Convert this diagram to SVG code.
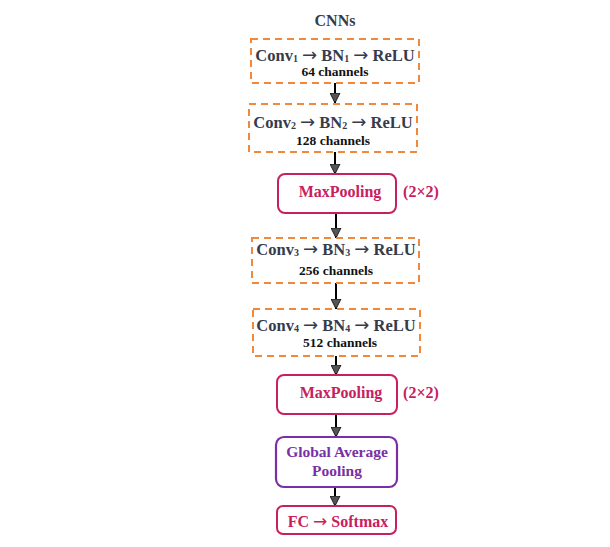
<svg xmlns="http://www.w3.org/2000/svg" width="610" height="547" viewBox="0 0 610 547">
<defs>
<style>
.t{font-family:"Liberation Serif","Times New Roman",serif;font-weight:bold;text-anchor:middle}
.conv{fill:#363b4b;font-size:16.5px}
.sub{font-size:10px}
.ar{font-family:"DejaVu Sans",sans-serif;font-weight:normal;font-size:18px}
.ch{fill:#111;font-size:13.5px}
.dash{fill:none;stroke:#F0893B;stroke-width:2;stroke-dasharray:7,5}
.mp{fill:#fff;stroke:#C8205F;stroke-width:2}
.mpt{fill:#C8205F;font-size:16px}
.gap{fill:#fff;stroke:#7A2FA6;stroke-width:2.2}
.gapt{fill:#7A2FA6;font-size:15.5px}
.ln{stroke:#000;stroke-width:2;fill:none}
</style>
<marker id="a2" markerWidth="12" markerHeight="12" refX="5.5" refY="10.5" orient="0" markerUnits="userSpaceOnUse" viewBox="0 0 12 12">
<path d="M0.5,0.5 L10.5,0.5 L5.5,10.5 Z" fill="#555" stroke="#000" stroke-width="0.8"/>
</marker>
</defs>
<rect width="610" height="547" fill="#fff"/>
<text class="t" x="335" y="26" font-size="16" fill="#363b4b">CNNs</text>
<g id="connectors">
<line class="ln" x1="335" y1="83" x2="335" y2="103" marker-end="url(#a2)"/>
<line class="ln" x1="335" y1="152" x2="335" y2="174" marker-end="url(#a2)"/>
<line class="ln" x1="336" y1="213" x2="336" y2="238" marker-end="url(#a2)"/>
<line class="ln" x1="336" y1="283" x2="336" y2="309" marker-end="url(#a2)"/>
<line class="ln" x1="336" y1="356" x2="336" y2="375" marker-end="url(#a2)"/>
<line class="ln" x1="336" y1="414" x2="336" y2="437" marker-end="url(#a2)"/>
<line class="ln" x1="335" y1="487" x2="335" y2="506" marker-end="url(#a2)"/>
</g>
<g id="conv1">
<rect class="dash" x="251" y="39" width="168" height="44"/>
<text class="t conv" x="335" y="61">Conv<tspan class="sub" dy="1">1</tspan><tspan dy="-1"> </tspan><tspan class="ar">→</tspan> BN<tspan class="sub" dy="1">1</tspan><tspan dy="-1"> </tspan><tspan class="ar">→</tspan> ReLU</text>
<text class="t ch" x="335" y="76">64 channels</text>
</g>
<g id="conv2">
<rect class="dash" x="249" y="104" width="168" height="48"/>
<text class="t conv" x="333" y="128">Conv<tspan class="sub" dy="1">2</tspan><tspan dy="-1"> </tspan><tspan class="ar">→</tspan> BN<tspan class="sub" dy="1">2</tspan><tspan dy="-1"> </tspan><tspan class="ar">→</tspan> ReLU</text>
<text class="t ch" x="333" y="145">128 channels</text>
</g>
<g id="maxpool1">
<rect class="mp" x="278" y="174" width="118" height="39" rx="7"/>
<text class="t mpt" x="340" y="197">MaxPooling</text>
<text class="t mpt" x="421" y="197">(2×2)</text>
</g>
<g id="conv3">
<rect class="dash" x="252" y="238" width="167" height="45"/>
<text class="t conv" x="336" y="255">Conv<tspan class="sub" dy="1">3</tspan><tspan dy="-1"> </tspan><tspan class="ar">→</tspan> BN<tspan class="sub" dy="1">3</tspan><tspan dy="-1"> </tspan><tspan class="ar">→</tspan> ReLU</text>
<text class="t ch" x="336" y="275">256 channels</text>
</g>
<g id="conv4">
<rect class="dash" x="253" y="309" width="167" height="47"/>
<text class="t conv" x="336" y="331">Conv<tspan class="sub" dy="1">4</tspan><tspan dy="-1"> </tspan><tspan class="ar">→</tspan> BN<tspan class="sub" dy="1">4</tspan><tspan dy="-1"> </tspan><tspan class="ar">→</tspan> ReLU</text>
<text class="t ch" x="340" y="347">512 channels</text>
</g>
<g id="maxpool2">
<rect class="mp" x="277" y="375" width="120" height="39" rx="7"/>
<text class="t mpt" x="341" y="398">MaxPooling</text>
<text class="t mpt" x="421" y="398">(2×2)</text>
</g>
<g id="gap">
<rect class="gap" x="276" y="437" width="121" height="50" rx="8"/>
<text class="t gapt" x="337" y="457">Global Average</text>
<text class="t gapt" x="337" y="476">Pooling</text>
</g>
<g id="fc">
<rect class="mp" x="277" y="506" width="119" height="28" rx="6"/>
<text class="t mpt" x="338" y="527">FC <tspan class="ar" style="font-size:17px">→</tspan> Softmax</text>
</g>
</svg>
